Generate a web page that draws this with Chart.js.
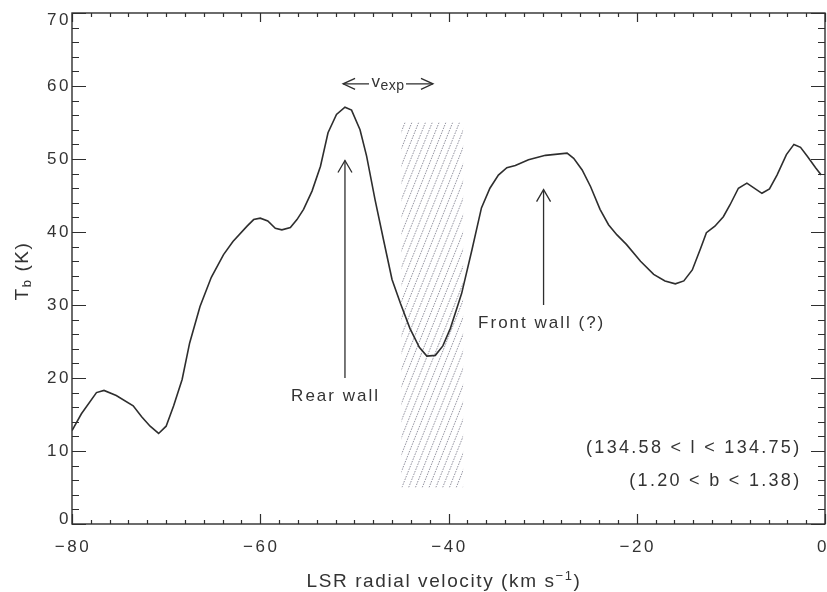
<!DOCTYPE html>
<html>
<head>
<meta charset="utf-8">
<script src="https://cdn.jsdelivr.net/npm/chart.js@4/dist/chart.umd.min.js"></script>
<style>
  html, body { margin: 0; padding: 0; background: #fff; }
  #wrap { width: 827px; height: 592px; position: relative; }
</style>
</head>
<body>
<div id="wrap"><canvas id="c"></canvas></div>
<script>
// ---- data ----
const velocity = [
  -80, -79, -77.4, -76.6, -75.3, -73.5, -72.6, -71.7, -70.8, -70.0, -69.2, -68.3, -67.5,
  -66.4, -65.2, -63.9, -62.9, -61.4, -60.7, -60.0, -59.2, -58.4, -57.7, -56.8, -56.1,
  -55.4, -54.5, -53.6, -52.8, -51.9, -51.0, -50.3, -49.4, -48.7, -47.8, -46.9, -46.0,
  -45.1, -44.1, -43.1, -42.3, -41.4, -40.6, -39.8, -39.0, -38.6, -37.5, -36.5, -35.6,
  -34.7, -33.8, -32.9, -31.5, -29.7, -27.4, -26.7, -25.8, -24.9, -23.9, -23.0, -22.1,
  -21.1, -19.6, -18.2, -17.0, -15.9, -15.0, -14.1, -13.2, -12.6, -11.7, -10.8, -10.1,
  -9.2, -8.3, -6.7, -5.9, -5.1, -4.1, -3.3, -2.6, -1.9, -1.0, -0.4
];
const brightnessTemp = [
  12.8, 15.1, 18.0, 18.3, 17.6, 16.2, 14.7, 13.4, 12.4, 13.4, 16.2, 19.8, 24.8,
  29.8, 33.8, 36.9, 38.7, 40.8, 41.7, 41.9, 41.5, 40.5, 40.3, 40.6, 41.7,
  43.1, 45.6, 49.0, 53.6, 56.1, 57.1, 56.7, 54.0, 50.4, 44.4, 38.9, 33.5,
  30.2, 26.8, 24.2, 23.0, 23.1, 24.4, 26.8, 30.0, 31.6, 37.6, 43.3, 46.0,
  47.8, 48.8, 49.1, 49.9, 50.5, 50.8, 50.1, 48.5, 46.2, 43.1, 41.0, 39.6,
  38.3, 36.0, 34.2, 33.3, 32.9, 33.3, 34.8, 37.8, 39.9, 40.8, 42.1, 43.7,
  46.0, 46.7, 45.3, 45.9, 47.8, 50.6, 52.0, 51.6, 50.4, 48.8, 47.8
];
const xMajorTicks = [-80, -60, -40, -20, 0];
const xTickLabels = ['\u221280', '\u221260', '\u221240', '\u221220', '0'];
const yMajorTicks = [0, 10, 20, 30, 40, 50, 60, 70];
const yTickLabels = ['0', '10', '20', '30', '40', '50', '60', '70'];
const hatchVelocityRange = [-45.0, -38.45];
const hatchTempRange = [5, 55];

const points = velocity.map((v, i) => ({ x: v, y: brightnessTemp[i] }));

const INK = '#2e2e2e';
const TEXT = '#333';
const FONT = '"Liberation Sans", Arial, sans-serif';

function drawParts(ctx, parts, x, y, align) {
  let total = 0;
  const widths = parts.map(p => {
    ctx.font = p.size + 'px ' + FONT;
    const w = ctx.measureText(p.t).width;
    total += w;
    return w;
  });
  let cx = align === 'center' ? x - total / 2 : (align === 'right' ? x - total : x);
  ctx.textAlign = 'left';
  ctx.textBaseline = 'middle';
  parts.forEach((p, i) => {
    ctx.font = p.size + 'px ' + FONT;
    ctx.fillText(p.t, cx, y + (p.dy || 0));
    cx += widths[i];
  });
}

function arrowHead(ctx, x, y, dir, len, half) {
  ctx.beginPath();
  if (dir === 'up') {
    ctx.moveTo(x - half, y + len); ctx.lineTo(x, y); ctx.lineTo(x + half, y + len);
  } else if (dir === 'left') {
    ctx.moveTo(x + len, y - half); ctx.lineTo(x, y); ctx.lineTo(x + len, y + half);
  } else {
    ctx.moveTo(x - len, y - half); ctx.lineTo(x, y); ctx.lineTo(x - len, y + half);
  }
  ctx.stroke();
}

const hatchPlugin = {
  id: 'hatch',
  beforeDatasetsDraw(chart) {
    const { ctx, scales: { x, y } } = chart;
    const x0 = x.getPixelForValue(hatchVelocityRange[0]);
    const x1 = x.getPixelForValue(hatchVelocityRange[1]);
    const y0 = y.getPixelForValue(hatchTempRange[1]);
    const y1 = y.getPixelForValue(hatchTempRange[0]);
    const h = y1 - y0;
    ctx.save();
    ctx.beginPath();
    ctx.rect(x0, y0, x1 - x0, h);
    ctx.clip();
    ctx.strokeStyle = 'rgba(95,95,115,0.75)';
    ctx.lineWidth = 0.9;
    ctx.setLineDash([1.6, 1.1]);
    const slope = 0.4;
    for (let sx = x0 - slope * h - 10; sx < x1 + 10; sx += 6.8) {
      ctx.beginPath();
      ctx.moveTo(sx, y1);
      ctx.lineTo(sx + slope * h, y0);
      ctx.stroke();
    }
    ctx.restore();
  }
};

const framePlugin = {
  id: 'frame',
  afterDraw(chart) {
    const { ctx, chartArea: a, scales: { x, y } } = chart;
    ctx.save();
    ctx.strokeStyle = INK;
    ctx.fillStyle = TEXT;
    ctx.lineWidth = 1.4;
    ctx.setLineDash([]);
    ctx.strokeRect(a.left, a.top, a.right - a.left, a.bottom - a.top);
    ctx.lineWidth = 1.2;
    for (let v = -80; v <= 0; v += 2) {
      const px = Math.round(x.getPixelForValue(v)) + 0.5;
      const major = xMajorTicks.includes(v);
      ctx.beginPath();
      ctx.moveTo(px, a.bottom); ctx.lineTo(px, a.bottom - (major ? 10 : 4));
      ctx.moveTo(px, a.top); ctx.lineTo(px, a.top + (major ? 9 : 4));
      ctx.stroke();
    }
    for (let t = 0; t <= 70; t += 2) {
      const py = Math.round(y.getPixelForValue(t)) + 0.5;
      const major = t % 10 === 0;
      ctx.beginPath();
      ctx.moveTo(a.left, py); ctx.lineTo(a.left + (major ? 14 : 7), py);
      ctx.moveTo(a.right, py); ctx.lineTo(a.right - (major ? 14 : 7), py);
      ctx.stroke();
    }
    // tick labels
    ctx.letterSpacing = '2.5px';
    ctx.font = '17px ' + FONT;
    ctx.textBaseline = 'middle';
    ctx.textAlign = 'center';
    xMajorTicks.forEach((v, i) => {
      let px = x.getPixelForValue(v);
      if (v === 0) px -= 3;
      ctx.fillText(xTickLabels[i], px + 1, a.bottom + 23);
    });
    ctx.textAlign = 'right';
    yMajorTicks.forEach((t, i) => {
      let py = y.getPixelForValue(t);
      py = Math.min(Math.max(py, a.top + 7.5), a.bottom - 5);
      ctx.fillText(yTickLabels[i], a.left - 1, py);
    });
    // axis titles
    ctx.letterSpacing = '1.6px';
    drawParts(ctx, [
      { t: 'LSR radial velocity (km s', size: 19 },
      { t: '\u22121', size: 13, dy: -6 },
      { t: ')', size: 19 }
    ], 444, 582, 'center');
    ctx.save();
    ctx.translate(23, 271);
    ctx.rotate(-Math.PI / 2);
    drawParts(ctx, [
      { t: 'T', size: 19 },
      { t: 'b', size: 13, dy: 4 },
      { t: ' (K)', size: 19 }
    ], 0, 0, 'center');
    ctx.restore();

    // annotations
    ctx.lineWidth = 1.3;
    const ay = y.getPixelForValue(60.3);
    const axL = x.getPixelForValue(-51.2);
    const axR = x.getPixelForValue(-41.65);
    const amid = (axL + axR) / 2;
    ctx.beginPath();
    ctx.moveTo(axL, ay); ctx.lineTo(amid - 19, ay);
    ctx.moveTo(amid + 18, ay); ctx.lineTo(axR, ay);
    ctx.stroke();
    arrowHead(ctx, axL, ay, 'left', 12, 5.5);
    arrowHead(ctx, axR, ay, 'right', 12, 5.5);
    ctx.letterSpacing = '0.5px';
    drawParts(ctx, [
      { t: 'v', size: 17, dy: -1 },
      { t: 'exp', size: 14, dy: 2 }
    ], amid, ay, 'center');

    const rx = x.getPixelForValue(-51.0);
    ctx.beginPath();
    ctx.moveTo(rx, y.getPixelForValue(49.8));
    ctx.lineTo(rx, y.getPixelForValue(20.0));
    ctx.stroke();
    arrowHead(ctx, rx, y.getPixelForValue(49.8), 'up', 12, 7);
    const fx = x.getPixelForValue(-29.9);
    ctx.beginPath();
    ctx.moveTo(fx, y.getPixelForValue(45.8));
    ctx.lineTo(fx, y.getPixelForValue(30.0));
    ctx.stroke();
    arrowHead(ctx, fx, y.getPixelForValue(45.8), 'up', 12, 7);

    ctx.letterSpacing = '2px';
    ctx.font = '17px ' + FONT;
    ctx.textAlign = 'center';
    ctx.textBaseline = 'middle';
    ctx.fillText('Rear wall', x.getPixelForValue(-52.0), y.getPixelForValue(17.5));
    ctx.fillText('Front wall (?)', x.getPixelForValue(-30.1), y.getPixelForValue(27.5));
    ctx.textAlign = 'right';
    ctx.letterSpacing = '2.3px';
    ctx.font = '18px ' + FONT;
    ctx.fillText('(134.58 < l < 134.75)', x.getPixelForValue(-2.5), y.getPixelForValue(10.4));
    ctx.fillText('(1.20 < b < 1.38)', x.getPixelForValue(-2.5), y.getPixelForValue(5.9));
    ctx.restore();
  }
};

new Chart(document.getElementById('c'), {
  type: 'line',
  data: {
    datasets: [{
      data: points,
      borderColor: INK,
      borderWidth: 1.6,
      pointRadius: 0,
      tension: 0,
      fill: false
    }]
  },
  options: {
    responsive: true,
    maintainAspectRatio: false,
    devicePixelRatio: 1,
    animation: false,
    layout: { padding: { left: 72, right: 2, top: 13, bottom: 68 } },
    plugins: { legend: { display: false }, tooltip: { enabled: false } },
    scales: {
      x: { type: 'linear', min: -80, max: 0, display: false },
      y: { type: 'linear', min: 0, max: 70, display: false }
    }
  },
  plugins: [hatchPlugin, framePlugin]
});
</script>
</body>
</html>
